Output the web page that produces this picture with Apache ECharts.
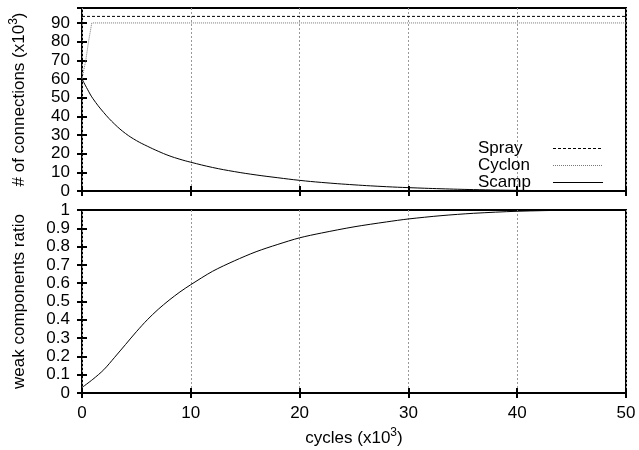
<!DOCTYPE html>
<html>
<head>
<meta charset="utf-8">
<script src="https://cdn.jsdelivr.net/npm/echarts@6/dist/echarts.min.js"></script>
<style>
html,body{margin:0;padding:0;background:#fff;}
#chart{width:639px;height:450px;}
</style>
</head>
<body>
<div id="chart"></div>
<script>
// ---- data (x in 10^3 cycles) ----
const sprayX = [0, 50];
const sprayConn = [93.5, 93.5];

const cyclonX = [0, 0.35, 0.6, 0.9, 50];
const cyclonConn = [60, 70, 80, 90, 90];

const scampX = [0, 0.5, 1, 2, 3, 4, 5, 6, 7, 8, 9, 10, 12, 14, 16, 18, 20, 22, 25, 28, 30, 33, 36, 40, 45, 50];
const scampConn = [60, 54.5, 49.5, 42, 35.8, 30.8, 27, 24, 21.3, 18.9, 17, 15.4, 12.6, 10.4, 8.6, 7.1, 5.7, 4.6, 3.3, 2.3, 1.8, 1.2, 0.75, 0.35, 0.1, 0];

const weakX = [0, 1, 2, 3, 4, 5, 6, 7, 8, 9, 10, 12, 14, 16, 18, 20, 22, 25, 28, 30, 33, 36, 40, 45, 50];
const weakRatio = [0.03, 0.075, 0.127, 0.195, 0.265, 0.335, 0.40, 0.457, 0.507, 0.552, 0.592, 0.665, 0.722, 0.772, 0.812, 0.848, 0.874, 0.908, 0.935, 0.951, 0.969, 0.982, 0.993, 0.999, 1.0];

const seriesNames = ['Spray', 'Cyclon', 'Scamp'];
const xTicks = {min: 0, max: 50, interval: 10};

function pairs(xs, ys){ return xs.map((x,i)=>[x, ys[i]]); }

const FONT = 'Liberation Sans, Helvetica, Arial, sans-serif';
const FS = 17;
const labelStyle = {color:'#000', fontSize:FS, fontFamily:FONT};
const tickStyle = {show:true, inside:true, length:5, lineStyle:{color:'#000', width:2}};
const noLine = {show:false};
const gridSplit = {show:true, lineStyle:{color:'#999', type:[2,2], width:1}};
const supRich = {sup:{fontSize:12, fontFamily:FONT, color:'#000', verticalAlign:'top', lineHeight:12}};

function xAxisDef(grid, opts){
  return Object.assign({
    gridIndex:grid, type:'value', min:xTicks.min, max:xTicks.max, interval:xTicks.interval,
    axisLine:noLine, axisTick:tickStyle, splitLine:{show:false},
    axisLabel:{show:false}
  }, opts);
}
function yAxisDef(grid, opts){
  return Object.assign({
    gridIndex:grid, type:'value',
    axisLine:noLine, axisTick:tickStyle, splitLine:{show:false},
    axisLabel:{show:false}
  }, opts);
}

const chart = echarts.init(document.getElementById('chart'));
chart.setOption({
  animation:false,
  backgroundColor:'#fff',
  textStyle:{fontFamily:FONT},
  grid:[
    {left:81, right:13, top:8, height:183, show:true, borderColor:'#000', borderWidth:2, backgroundColor:'transparent'},
    {left:81, right:13, top:210, height:183, show:true, borderColor:'#000', borderWidth:2, backgroundColor:'transparent'}
  ],
  legend:{
    data:seriesNames,
    orient:'vertical',
    left:473, top:135,
    align:'right',
    itemWidth:50, itemHeight:14, itemGap:0,
    itemStyle:{color:'rgba(0,0,0,0)', borderWidth:0, opacity:0},
    lineStyle:{width:1},
    formatter:'{n|{name}}',
    textStyle:Object.assign({rich:{n:{width:70, align:'left', fontSize:FS, lineHeight:17, fontFamily:FONT, color:'#000'}}}, labelStyle),
    selectedMode:false
  },
  xAxis:[
    xAxisDef(0, {position:'bottom', splitLine:gridSplit}),
    xAxisDef(0, {position:'top'}),
    xAxisDef(1, {position:'bottom', splitLine:gridSplit,
      axisLabel:Object.assign({show:true, margin:12}, labelStyle),
      name:'cycles (x10{sup|3})', nameLocation:'middle', nameGap:34,
      nameTextStyle:Object.assign({lineHeight:22, rich:supRich}, labelStyle)}),
    xAxisDef(1, {position:'top'})
  ],
  yAxis:[
    yAxisDef(0, {position:'left', min:0, max:98, interval:10,
      axisLabel:Object.assign({show:true, margin:12, showMaxLabel:false}, labelStyle),
      name:'# of connections (x10{sup|3})', nameLocation:'middle', nameGap:52,
      nameTextStyle:Object.assign({lineHeight:22, rich:supRich}, labelStyle)}),
    yAxisDef(0, {position:'right', min:0, max:98, interval:10}),
    yAxisDef(1, {position:'left', min:0, max:1, interval:0.1,
      axisLabel:Object.assign({show:true, margin:12}, labelStyle),
      name:'weak components ratio', nameLocation:'middle', nameGap:52,
      nameTextStyle:Object.assign({lineHeight:22}, labelStyle)}),
    yAxisDef(1, {position:'right', min:0, max:1, interval:0.1})
  ],
  series:[
    {name:'Spray', type:'line', xAxisIndex:0, yAxisIndex:0, data:pairs(sprayX, sprayConn),
      symbol:'none', lineStyle:{color:'#000', width:1, type:[3,2]}, itemStyle:{color:'#000'}},
    {name:'Cyclon', type:'line', xAxisIndex:0, yAxisIndex:0, data:pairs(cyclonX, cyclonConn),
      symbol:'none', lineStyle:{color:'#777', width:1, type:[1,1]}, itemStyle:{color:'#777'}},
    {name:'Scamp', type:'line', xAxisIndex:0, yAxisIndex:0, data:pairs(scampX, scampConn),
      symbol:'none', smooth:0.4, lineStyle:{color:'#000', width:1}, itemStyle:{color:'#000'}},
    {name:'Weak', type:'line', xAxisIndex:2, yAxisIndex:2, data:pairs(weakX, weakRatio),
      symbol:'none', smooth:0.3, lineStyle:{color:'#000', width:1}, itemStyle:{color:'#000'}}
  ]
});
</script>
</body>
</html>
